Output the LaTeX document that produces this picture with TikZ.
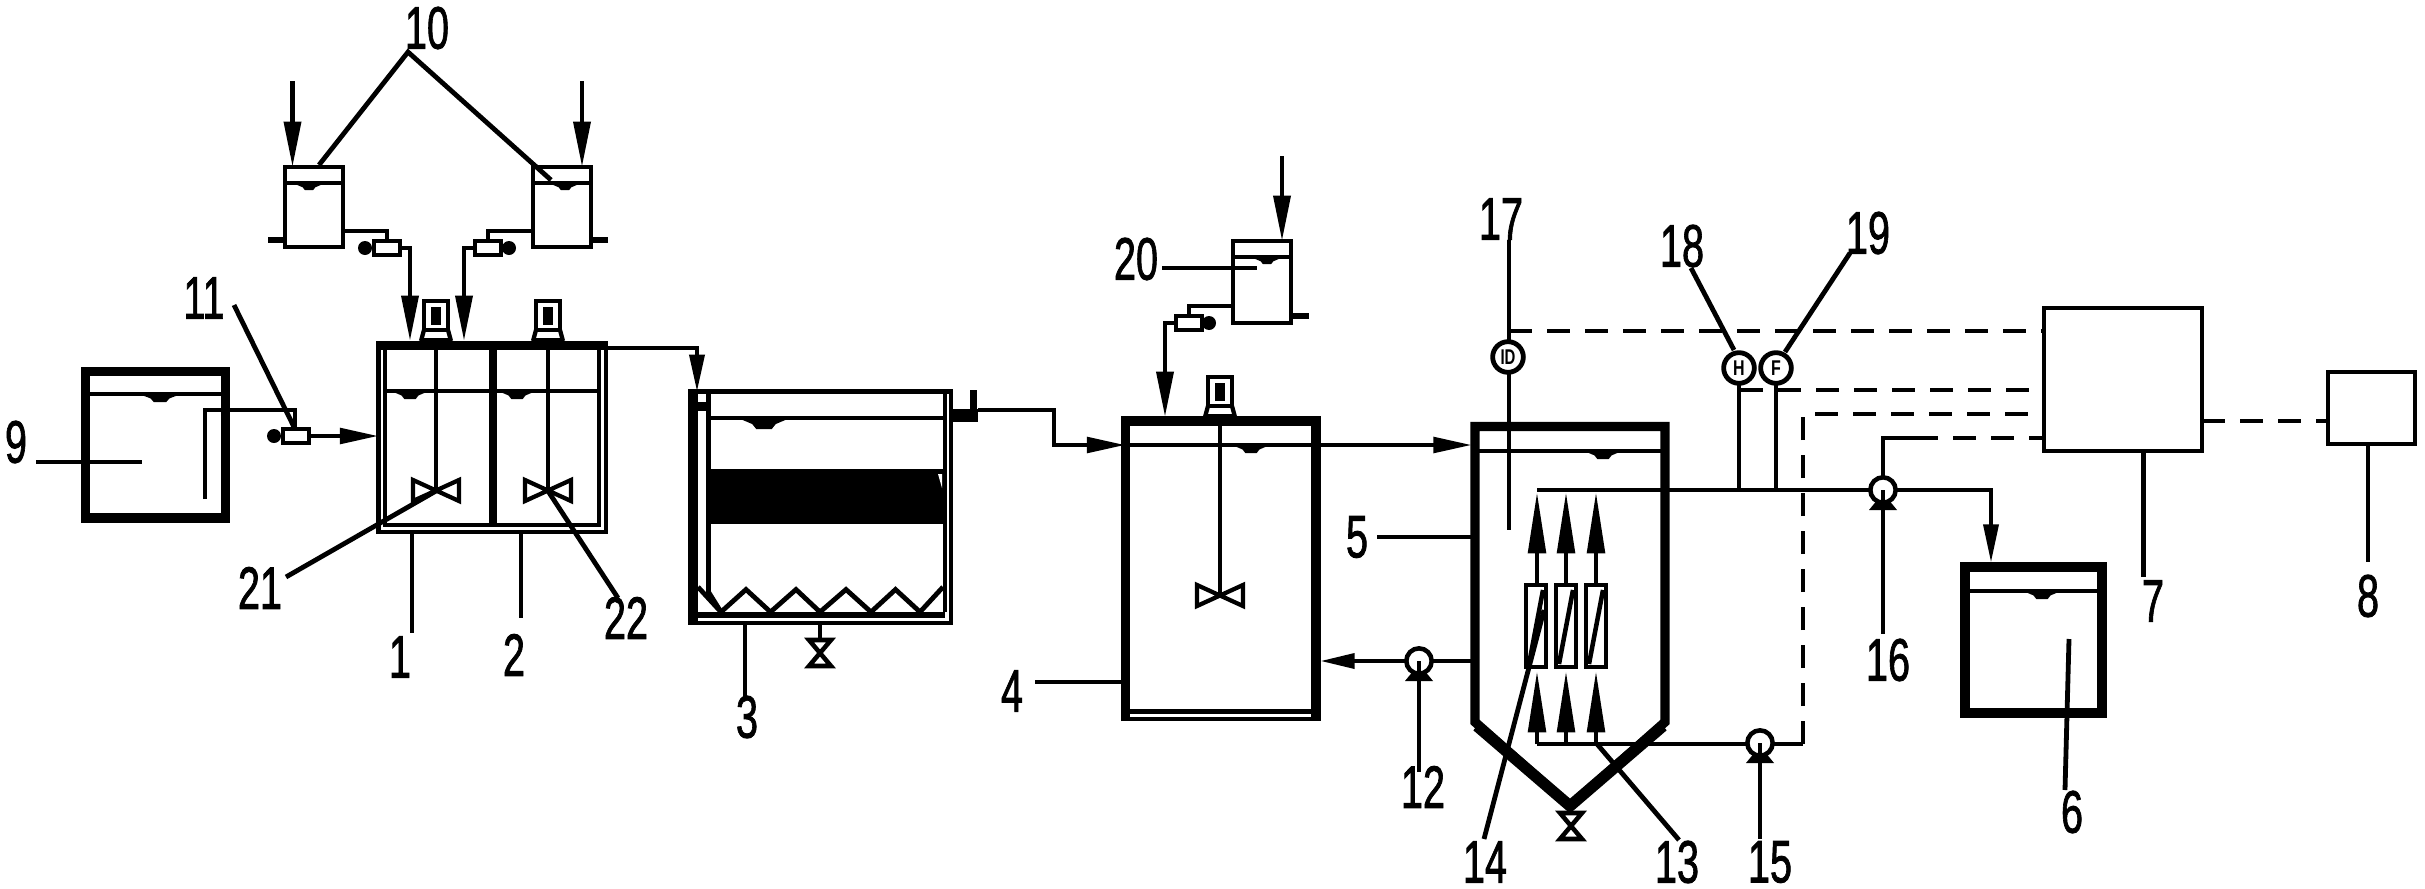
\documentclass[tikz,border=0pt]{standalone}
\usepackage{fontspec}
\setmainfont{Liberation Sans}
\newfontfamily\numfont[FakeBold=1.6]{Liberation Sans}
\usetikzlibrary{arrows.meta,calc}
\tikzset{
  pipe/.style={line width=3.4pt,line join=miter},
  lead/.style={line width=3.6pt},
  dashline/.style={line width=3.6pt,dash pattern=on 17pt off 11.5pt},
  wallbox/.style={draw,line width=7pt,inner sep=0pt,outer sep=0pt,rectangle},
  thinbox/.style={draw,line width=3.6pt,inner sep=0pt,outer sep=0pt,rectangle},
  ghostbox/.style={inner sep=0pt,outer sep=0pt,rectangle},
  num/.style={font=\fontsize{45}{45}\numfont,inner sep=0pt,outer sep=0pt},
  headL/.style={-{Triangle[length=34pt,width=12.5pt]},pipe},
  headS/.style={-{Triangle[length=28pt,width=11pt]},pipe},
  headH/.style={-{Triangle[length=29pt,width=11.5pt]},pipe},
  sensorbox/.style={circle,draw,fill=white,line width=3.6pt,minimum size=23pt,inner sep=0pt,outer sep=0pt},
  sensortext/.style={font=\fontsize{16}{16}\selectfont\bfseries},
  meterbox/.style={draw,fill=white,line width=3pt,inner sep=0pt,outer sep=0pt,rectangle,minimum width=19pt,minimum height=10pt}
}
\newcommand{\Num}[1]{\scalebox{0.66}[1]{#1}}
\newcommand{\vessel}[6]{%
  \pgfmathsetmacro\tw{(#4-#2)*0.75}\pgfmathsetmacro\th{(#5-#3)*0.75}%
  \node[#6,minimum width=\tw pt,minimum height=\th pt] (#1) at ({(#2+#4)/2},{(#3+#5)/2}) {};}
\newcommand{\meniscus}[4]{% x y halfwidth depth
  \fill ({#1-#3},{#2}) -- ({#1-0.45*#3},{(#2)+0.55*#4}) -- ({#1-0.3*#3},{(#2)+#4}) -- ({#1+0.3*#3},{(#2)+#4}) -- ({#1+0.45*#3},{(#2)+0.55*#4}) -- ({#1+#3},{#2}) -- cycle;}
\newcommand{\impeller}[2]{% centre
  \draw[line width=3.2pt,line join=miter] ({#1-23},{#2-11}) -- ({#1+23},{#2+10}) -- ({#1+23},{#2-11}) -- ({#1-23},{#2+10}) -- cycle;}
\newcommand{\vvalve}[2]{% centre
  \draw[line width=3.4pt,line join=miter] ({#1-11},{#2-13}) -- ({#1+11},{#2+13}) -- ({#1-11},{#2+13}) -- ({#1+11},{#2-13}) -- cycle;}
\newcommand{\motor}[2]{% x, wall top y
  \draw[line width=3.6pt] ({#1-12},{#2-11}) -- ({#1-12},{#2-40}) -- ({#1+12},{#2-40}) -- ({#1+12},{#2-11}) -- cycle;
  \fill ({#1-5},{#2-34}) rectangle ({#1+5},{#2-16});
  \draw[line width=3.2pt] ({#1-12},{#2-11}) -- ({#1-15},{#2}) ({#1+12},{#2-11}) -- ({#1+15},{#2});
  \fill ({#1-16},{#2-3}) rectangle ({#1+16},{#2});}
\newcommand{\pumpsym}[3]{% name x y
  \fill ({#2-5},{#3+9}) -- ({#2-14},{#3+20}) -- ({#2+14},{#3+20}) -- ({#2+5},{#3+9}) -- cycle;
  \node[circle,draw,fill=white,line width=3.4pt,minimum size=19pt,inner sep=0pt,outer sep=0pt] (#1) at (#2,#3) {};}
\newcommand{\dosetank}[8]{% name x1 y1 x2 y2 midx stubx stubside
  \vessel{#1}{#2}{#3}{#4}{#5}{thinbox}
  \draw[line width=3.4pt] (#2,{#3+16}) -- (#4,{#3+16});
  \meniscus{#6}{#3+17}{14}{6}
  \draw[line width=4.5pt] (#7,{#5-7}) -- (#8,{#5-7});}
\begin{document}
\begin{tikzpicture}[x=0.75pt,y=-0.75pt]
\useasboundingbox (0,0) rectangle (2425,889);

% ---- vessel 9
\vessel{t9}{85.5}{371.5}{225.5}{518}{wallbox}
\draw[pipe] (85.5,394) -- (225.5,394);
\meniscus{160}{394}{21}{8}
% ---- dosing tanks
\dosetank{d1}{285}{167}{343}{247}{309}{268}{285}
\dosetank{d2}{533}{167}{591}{247}{565}{608}{591}
\dosetank{d3}{1233}{241}{1291}{323}{1267}{1309}{1291}
% ---- reactors 1 and 2
\vessel{t1}{378.5}{343}{606}{532}{thinbox}
\vessel{t1i}{385}{346}{599}{525}{thinbox}
\fill (376.5,341) rectangle (608,350);
\draw[line width=6pt] (492.5,350) -- (492.5,525);
\draw[pipe] (385,391) -- (599,391);
\meniscus{410}{391}{19}{8}
\meniscus{517}{391}{19}{8}
\motor{436}{341}
\motor{548}{341}
\coordinate (m1top) at (436,350); \coordinate (m1c) at (436,491);
\coordinate (m2top) at (548,350); \coordinate (m2c) at (548,491);
\draw[lead] (m1top) -- (m1c);
\draw[lead] (m2top) -- (m2c);
\impeller{436}{491}
\impeller{548}{491}
% ---- settling tank 3
\fill (688,389.5) rectangle (698,625);
\draw[line width=3.4pt] (688,391.5) -- (951,391.5) -- (951,623) -- (690,623);
\draw[line width=3.6pt] (708.5,394) -- (708.5,592) -- (721,612);
\draw[line width=3.6pt] (698,587) -- (721,612);
\draw[line width=3.6pt] (945,394) -- (945,612);
\draw[line width=4pt] (698,615) -- (945,615);
\draw[pipe] (708.5,418) -- (945,418);
\meniscus{764}{418}{26}{11}
\fill (708.5,469) rectangle (943,524);
\fill[white] (938,474) -- (942,474) -- (942,488) -- cycle;
\fill (698,402) rectangle (706,411);
\draw[line width=3.6pt,line join=miter] (721,612) -- (746,589.5) -- (770.5,612) -- (796,589.5) -- (820,612) -- (846,589.5) -- (871,612) -- (895.5,589.5) -- (920,612) -- (943,587);
\coordinate (vb) at (820,625); \coordinate (vt) at (820,640);
\draw[lead] (vb) -- (vt);
\vvalve{820}{653}
\fill (953,409) rectangle (978,422);
\fill (970,390) rectangle (977,409);
% ---- tank 4
\vessel{t4}{1125.5}{421}{1316}{719}{ghostbox}
\draw[line width=7pt,line join=miter] (1125.5,721) -- (1125.5,421) -- (1316,421) -- (1316,721);
\draw[line width=3.4pt] (1121,711.5) -- (1320,711.5);
\draw[line width=3.4pt] (1121,719) -- (1320,719);
\motor{1220}{417}
\coordinate (m4top) at (1220,426); \coordinate (m4c) at (1220,596);
\draw[lead] (m4top) -- (m4c);
\impeller{1220}{596}
\draw[pipe] (1125.5,445) -- (1316,445);
\meniscus{1251}{445}{19}{8}
% ---- tank 5
\draw[line width=7pt,line join=miter] (1475,426.5) -- (1475,722) -- (1570,806) -- (1665,722) -- (1665,426.5) -- cycle;
\draw[line width=8.5pt] (1477,726) -- (1570,806) -- (1663,726);
\draw[pipe] (1475,451) -- (1665,451);
\meniscus{1603}{451}{19}{8}
\vvalve{1571}{826}
\coordinate (t5v) at (1570,806); \coordinate (t5vb) at (1570,813);
\draw[lead] (t5v) -- (t5vb);
% ---- tank 6, 7, 8
\vessel{t6}{1965}{567}{2102}{713}{wallbox}
\draw[pipe] (1965,591) -- (2102,591);
\meniscus{2042}{591}{19}{8}
\vessel{t7}{2044}{308}{2202}{451}{thinbox}
\vessel{t8}{2328}{372}{2415}{444}{thinbox}

% ---- pipes, feed
\coordinate (p9a) at (205,499); \coordinate (p9b) at (205,410); \coordinate (p9c) at (295,410);
\node[meterbox] (fm11) at (296,436) {};
\draw[pipe] (p9a) -- (p9b) -- (p9c) -- (fm11.north -| p9c);
\fill (274,436) circle (7);
\draw[headH] (fm11.east) -- (t1.west |- fm11.east);
% dosing feeds
\coordinate (a1) at (292.5,81); \coordinate (a2) at (582,81); \coordinate (a3) at (1282,156);
\draw[headL] (a1) -- (a1 |- d1.north);
\draw[headL] (a2) -- (a2 |- d2.north);
\draw[headL] (a3) -- (a3 |- d3.north);
\node[meterbox] (fm1) at (387,248) {};
\node[meterbox] (fm2) at (488,248) {};
\node[meterbox] (fm3) at (1189,323) {};
\fill (365,248) circle (7);
\fill (509,248) circle (7);
\fill (1209,323) circle (7);
\coordinate (e1) at (410,341); \coordinate (e2) at (464,341); \coordinate (e3) at (1165,417);
\draw[pipe] (d1.east |- 0,231) -- (fm1.north |- 0,231) -- (fm1.north);
\draw[pipe] (d2.west |- 0,231) -- (fm2.north |- 0,231) -- (fm2.north);
\draw[pipe] (d3.west |- 0,306) -- (fm3.north |- 0,306) -- (fm3.north);
\draw[headL] (fm1.east) -- (e1 |- fm1.east) -- (e1);
\draw[headL] (fm2.west) -- (e2 |- fm2.west) -- (e2);
\draw[headL] (fm3.west) -- (e3 |- fm3.west) -- (e3);
% 2 to 3
\coordinate (o2) at (606,348); \coordinate (i3) at (697,392);
\draw[headS] (o2) -- (i3 |- o2) -- (i3);
% 3 to 4
\coordinate (o3) at (978,410); \coordinate (b3) at (1054,410); \coordinate (b4) at (1054,445);
\draw[headH] (o3) -- (b3) -- (b4) -- (t4.west |- b4);
% 4 to 5
\coordinate (o4) at (1318,445); \coordinate (i5) at (1472,445);
\draw[headH] (o4) -- (i5);
% 5 to 4 by pump 12
\coordinate (r5) at (1472,661); \coordinate (i4) at (1320,661);
\pumpsym{p12}{1419}{661}
\draw[pipe] (r5) -- (p12.east);
\draw[pipe,-{Triangle[length=26pt,width=11pt]}] (p12.west) -- (i4);
% headers in tank 5
\coordinate (h1) at (1537,490); \coordinate (h2) at (1991,490); \coordinate (h3) at (1991,563);
\draw[pipe,-{Triangle[length=29pt,width=11pt]}] (h1) -- (h2) -- (h3);
\coordinate (l1) at (1537,744); \coordinate (l2) at (1803,744);
\draw[pipe] (l1) -- (l2);
\foreach \nm/\xa/\xb in {a/1526/1546,b/1556/1576,c/1586/1606}{
  \vessel{mem\nm}{\xa}{585}{\xb}{667}{thinbox}
  \draw[line width=3.4pt] (\xa+3,664) -- (\xb-3,590);
}
\foreach \nm/\xx in {a/1537,b/1566,c/1596}{
  \draw[pipe,-{Triangle[length=46pt,width=13pt]}] (\xx,744) -- (\xx,671);
  \draw[pipe,-{Triangle[length=46pt,width=13pt]}] (\xx,585) -- (\xx,492);
}
% ---- sensors and dashed lines
\coordinate (s17up) at (1509,240); \coordinate (s17dn) at (1509,530);
\draw[lead] (s17up) -- (s17dn);
\node[sensorbox] (s17) at (1508,357) {};
\node[sensortext] at (s17) {\scalebox{0.7}[1]{ID}};
\node[sensorbox] (s18) at (1739,368) {};
\node[sensortext] at (s18) {\scalebox{0.75}[1]{H}};
\node[sensorbox] (s19) at (1776,368) {};
\node[sensortext] at (s19) {\scalebox{0.75}[1]{F}};
\draw[pipe] (s18.south) -- (s18.south |- h1);
\draw[pipe] (s19.south) -- (s19.south |- h1);
\draw[dashline] (1509,331) -- (t7.west |- 0,331);
\draw[dashline] (1740,390) -- (t7.west |- 0,390);
\draw[dashline] (1803,744) -- (1803,414) -- (t7.west |- 0,414);
\draw[pipe] (1883,490) -- (1883,438) -- (1915,438);
\draw[dashline] (1915,438) -- (t7.west |- 0,438);
\draw[dashline] (t7.east |- 0,421) -- (t8.west |- 0,421);
% pumps 15, 16
\pumpsym{p15}{1760}{743}
\pumpsym{p16}{1883}{490}

% ---- leaders and labels
\node[num] (n9) at (16,442) {\Num{9}};
\coordinate (c9a) at (36,462); \coordinate (c9b) at (142,462);
\draw[lead] (c9a) -- (c9b);
\node[num] (n10) at (427,28) {\Num{10}};
\coordinate (c10) at (408,52); \coordinate (c10a) at (319,165); \coordinate (c10b) at (551,180);
\draw[lead] (c10a) -- (c10) -- (c10b);
\node[num] (n11) at (204,298) {\Num{11}};
\coordinate (c11a) at (234,305); \coordinate (c11b) at (295,429);
\draw[lead] (c11a) -- (c11b);
\node[num] (n21) at (260,588) {\Num{21}};
\coordinate (c21a) at (286,577);
\draw[lead] (c21a) -- (m1c);
\node[num] (n22) at (626,618) {\Num{22}};
\coordinate (c22a) at (618,598);
\draw[lead] (m2c) -- (c22a);
\node[num] (n1) at (400,657) {\Num{1}};
\coordinate (c1a) at (412,533); \coordinate (c1b) at (412,633);
\draw[lead] (c1a) -- (c1b);
\node[num] (n2) at (514,655) {\Num{2}};
\coordinate (c2a) at (521,533); \coordinate (c2b) at (521,618);
\draw[lead] (c2a) -- (c2b);
\node[num] (n3) at (747,717) {\Num{3}};
\coordinate (c3a) at (745,625); \coordinate (c3b) at (745,697);
\draw[lead] (c3a) -- (c3b);
\node[num] (n4) at (1012,691) {\Num{4}};
\coordinate (c4a) at (1035,682);
\draw[lead] (c4a) -- (c4a -| t4.west);
\node[num] (n5) at (1357,537) {\Num{5}};
\coordinate (c5a) at (1377,537); \coordinate (c5b) at (1472,537);
\draw[lead] (c5a) -- (c5b);
\node[num] (n6) at (2072,812) {\Num{6}};
\coordinate (c6a) at (2069,639); \coordinate (c6b) at (2065,790);
\draw[lead] (c6a) -- (c6b);
\node[num] (n7) at (2153,601) {\Num{7}};
\coordinate (c7a) at (2143.5,453); \coordinate (c7b) at (2143.5,577);
\draw[lead] (c7a) -- (c7b);
\node[num] (n8) at (2368,596) {\Num{8}};
\coordinate (c8a) at (2368,446); \coordinate (c8b) at (2368,562);
\draw[lead] (c8a) -- (c8b);
\node[num] (n12) at (1423,787) {\Num{12}};
\coordinate (c12a) at (1419,661); \coordinate (c12b) at (1419,772);
\draw[lead] (c12a) -- (c12b);
\node[num] (n13) at (1677,862) {\Num{13}};
\coordinate (c13a) at (1597,744); \coordinate (c13b) at (1679,840);
\draw[lead] (c13a) -- (c13b);
\node[num] (n14) at (1485,862) {\Num{14}};
\coordinate (c14a) at (1484,839); \coordinate (c14b) at (1544,610);
\draw[lead] (c14a) -- (c14b);
\node[num] (n15) at (1770,862) {\Num{15}};
\coordinate (c15a) at (1760,743); \coordinate (c15b) at (1760,839);
\draw[lead] (c15a) -- (c15b);
\node[num] (n16) at (1888,660) {\Num{16}};
\coordinate (c16a) at (1883,490); \coordinate (c16b) at (1883,634);
\draw[lead] (c16a) -- (c16b);
\node[num] (n17) at (1501,219) {\Num{17}};
\node[num] (n18) at (1682,246) {\Num{18}};
\coordinate (c18a) at (1691,268); \coordinate (c18b) at (1734,350);
\draw[lead] (c18a) -- (c18b);
\node[num] (n19) at (1868,233) {\Num{19}};
\coordinate (c19a) at (1850,253); \coordinate (c19b) at (1785,352);
\draw[lead] (c19a) -- (c19b);
\node[num] (n20) at (1136,259) {\Num{20}};
\coordinate (c20a) at (1162,268); \coordinate (c20b) at (1257,268);
\draw[lead] (c20a) -- (c20b);
\end{tikzpicture}
\end{document}
